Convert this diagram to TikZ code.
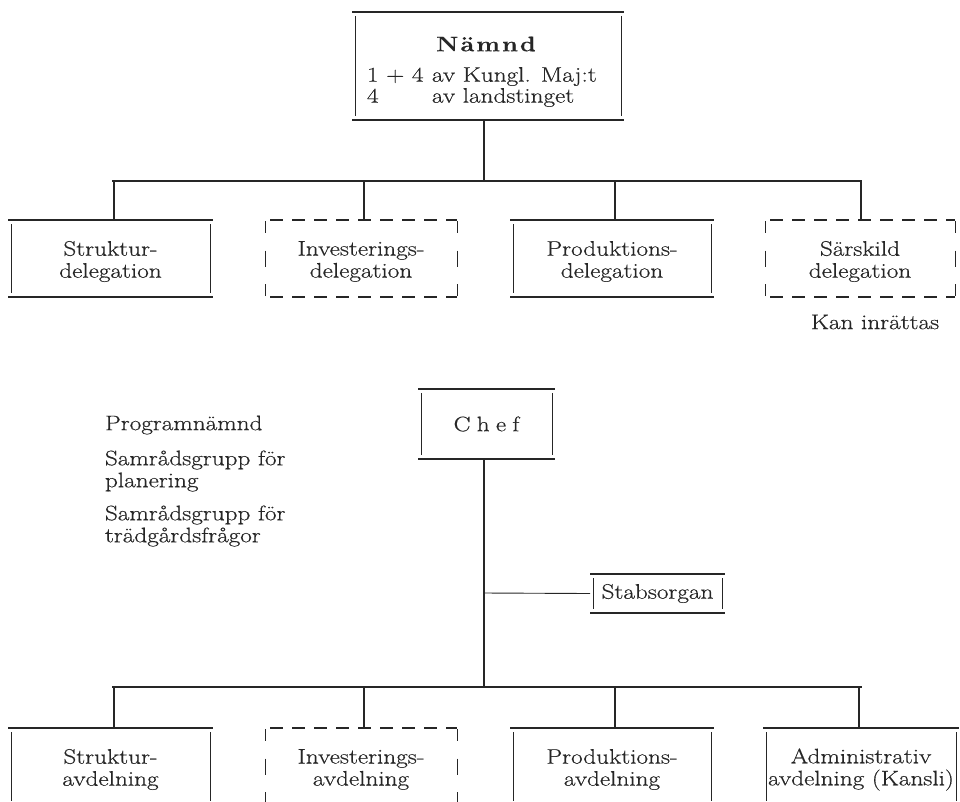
\documentclass[tikz,border=0pt]{standalone}
\usepackage{fontspec}
\setmainfont{Latin Modern Roman}[FakeStretch=1.2,FakeBold=0.5]
\definecolor{ink}{HTML}{262626}
\newcommand\solidframe[1]{%
  \draw[hline] (#1.north west) -- (#1.north east);
  \draw[hline] (#1.south west) -- (#1.south east);
  \draw[vline] ([shift={(3,4)}]#1.north west) -- ([shift={(3,-4)}]#1.south west);
  \draw[vline] ([shift={(-3,4)}]#1.north east) -- ([shift={(-3,-4)}]#1.south east);}
\newcommand\dashframe[1]{%
  \draw[hline,dash pattern=on 13pt off 9pt] ([shift={(8,0)}]#1.north west) -- ([shift={(-3,0)}]#1.north east);
  \draw[hline,dash pattern=on 13pt off 9pt] ([shift={(8,0)}]#1.south west) -- ([shift={(-3,0)}]#1.south east);
  \foreach \a/\s in {west/3,east/-3}{%
    \draw[vline] ([shift={(\s,1)}]#1.north \a) -- ([shift={(\s,13)}]#1.north \a);
    \draw[vline] ([shift={(\s,-8)}]#1.\a) -- ([shift={(\s,8)}]#1.\a);
    \draw[vline] ([shift={(\s,-1)}]#1.south \a) -- ([shift={(\s,-13)}]#1.south \a);}}
\begin{document}
\begin{tikzpicture}[x=1pt,y=-1pt,
  font=\fontsize{21}{22}\selectfont,
  every node/.style={inner sep=0pt,outer sep=0pt,text=ink,align=center},
  every label/.style={inner sep=0pt,outer sep=0pt,text=ink,align=center},
  hline/.style={draw=ink,line width=1.7pt},
  vline/.style={draw=ink,line width=0.9pt},
  conn/.style={draw=ink,line width=1.2pt},
  box/.style={minimum height=77pt},
  boxtext/.style={label={[yshift=-3pt]center:{#1}}}]
\useasboundingbox (0,0) rectangle (960,801);
\clip (0,0) rectangle (960,801);
% Nämnd
\node[minimum width=272pt,minimum height=108pt] (namnd) at (488,66) {};
\node (namndtitle) at (486,44) {\addfontfeatures{LetterSpace=10}\bfseries Nämnd};
\node[anchor=west,align=left] (namndtext) at (367,87) {\makebox[65pt][l]{1 + 4}av Kungl. Maj:t\\[-1pt]\makebox[65pt][l]{4}av landstinget};
\solidframe{namnd}
% delegations
\node[box,minimum width=205pt,boxtext={Struktur-\\delegation}] (sd) at (110.5,258.5) {};
\node[box,minimum width=198pt,boxtext={Investerings-\\delegation}] (id) at (361,258.5) {};
\node[box,minimum width=204pt,boxtext={Produktions-\\delegation}] (pd) at (612,258.5) {};
\node[box,minimum width=196pt,boxtext={Särskild\\delegation}] (xd) at (860,258.5) {};
\solidframe{sd}\dashframe{id}\solidframe{pd}\dashframe{xd}
\node (kan) at (875,322) {Kan inrättas};
\coordinate (tbar) at (484,181);
\draw[conn] (namnd.south -| tbar) -- (tbar);
\draw[conn] (112,181) coordinate (tl) -- (862,181) coordinate (tr);
\foreach \n/\x in {sd/114,id/364,pd/615,xd/861}{
  \coordinate (d\n) at (\x,181);
  \draw[conn] (d\n) -- (d\n |- \n.north);}
% Chef
\node[minimum width=137pt,minimum height=70pt] (chef) at (486.5,424) {\addfontfeatures{LetterSpace=30}Chef};
\solidframe{chef}
\node[anchor=west,align=left] (prog) at (105,425) {Programnämnd};
\node[anchor=west,align=left] (plan) at (105,471) {Samrådsgrupp för\\planering};
\node[anchor=west,align=left] (trad) at (105,526) {Samrådsgrupp för\\trädgårdsfrågor};
\node[minimum width=135pt,minimum height=39pt] (stab) at (657.5,593.5) {Stabsorgan};
\solidframe{stab}
\coordinate (bbar) at (484,687);
\coordinate (sbr) at (484,593);
\draw[conn] (chef.south -| bbar) -- (bbar);
\draw[conn,line width=0.9pt] (sbr) -- (stab.west);
\draw[conn] (112,687) coordinate (bl) -- (862,687) coordinate (br);
% departments
\node[box,minimum width=205pt,boxtext={Struktur-\\avdelning}] (sa) at (110.5,766.5) {};
\node[box,minimum width=198pt,boxtext={Investerings-\\avdelning}] (ia) at (361,766.5) {};
\node[box,minimum width=204pt,boxtext={Produktions-\\avdelning}] (pa) at (612,766.5) {};
\node[box,minimum width=196pt,boxtext={Administrativ\\avdelning (Kansli)}] (aa) at (861,766.5) {};
\solidframe{sa}\dashframe{ia}\solidframe{pa}\solidframe{aa}
\foreach \n/\x in {sa/114,ia/364,pa/615,aa/859}{
  \coordinate (e\n) at (\x,687);
  \draw[conn] (e\n) -- (e\n |- \n.north);}
\end{tikzpicture}
\end{document}
